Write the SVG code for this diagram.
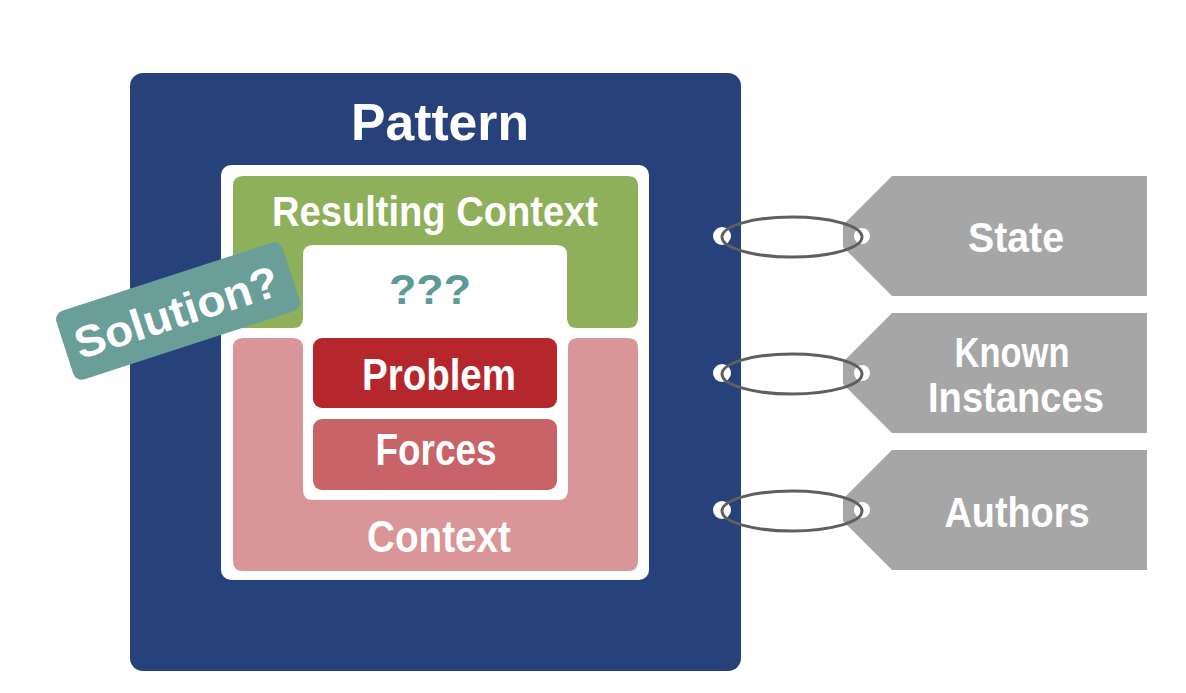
<svg xmlns="http://www.w3.org/2000/svg" width="1186" height="693" viewBox="0 0 1186 693">
<style>
.t{font-family:"Liberation Sans",Arial,sans-serif;font-weight:bold;fill:#ffffff;text-anchor:middle}
.tag{fill:#a6a6a6}
.hole{fill:#ffffff}
.ring{fill:none;stroke:#5f5f5f;stroke-width:3}
</style>
<rect width="1186" height="693" fill="#ffffff"/>
<g id="pattern">
<rect x="130" y="73" width="611" height="598" rx="13" fill="#27417a"/>
<text class="t" x="440" y="140" font-size="52" textLength="178" lengthAdjust="spacingAndGlyphs">Pattern</text>
<rect x="221" y="165" width="428" height="415" rx="10" fill="#ffffff"/>
</g>
<g id="resulting-context">
<path d="M243,176 H628 Q638,176 638,186 V318 Q638,328 628,328 H577 Q567,328 567,318 V255 Q567,245 557,245 H313 Q303,245 303,255 V318 Q303,328 293,328 H243 Q233,328 233,318 V186 Q233,176 243,176 Z" fill="#8fb05a"/>
<text class="t" x="435" y="226" font-size="42" textLength="326" lengthAdjust="spacingAndGlyphs">Resulting Context</text>
<text x="430" y="304" font-family="Liberation Sans,Arial,sans-serif" font-weight="bold" font-size="42" fill="#5b9a95" text-anchor="middle" textLength="82" lengthAdjust="spacingAndGlyphs">???</text>
</g>
<g id="context">
<path d="M243,338 H293 Q303,338 303,348 V490 Q303,500 313,500 H558 Q568,500 568,490 V348 Q568,338 578,338 H628 Q638,338 638,348 V561 Q638,571 628,571 H243 Q233,571 233,561 V348 Q233,338 243,338 Z" fill="#d99597"/>
<text class="t" x="439" y="552" font-size="45" textLength="144" lengthAdjust="spacingAndGlyphs">Context</text>
</g>
<g id="problem">
<rect x="313" y="338" width="244" height="70" rx="9" fill="#b5272c"/>
<text class="t" x="439" y="390" font-size="45" textLength="154" lengthAdjust="spacingAndGlyphs">Problem</text>
</g>
<g id="forces">
<rect x="313" y="419" width="244" height="71" rx="9" fill="#c86468"/>
<text class="t" x="436" y="465" font-size="45" textLength="121" lengthAdjust="spacingAndGlyphs">Forces</text>
</g>
<g id="solution" transform="translate(178,311) rotate(-18)">
<rect x="-119" y="-36" width="238" height="72" rx="9" fill="#6a9e99"/>
<text class="t" x="-2" y="16" font-size="44" textLength="212" lengthAdjust="spacingAndGlyphs">Solution?</text>
</g>
<g id="state">
<polygon class="tag" points="892,176 1147,176 1147,296 892,296 843,247 843,225"/>
<circle class="hole" cx="862" cy="236" r="8"/>
<text class="t" x="1016" y="252" font-size="42" textLength="96" lengthAdjust="spacingAndGlyphs">State</text>
</g>
<g id="known-instances">
<polygon class="tag" points="892,313 1147,313 1147,433 892,433 843,384 843,362"/>
<circle class="hole" cx="862" cy="373" r="8"/>
<text class="t" x="1012" y="367" font-size="42" textLength="115" lengthAdjust="spacingAndGlyphs">Known</text>
<text class="t" x="1016" y="412" font-size="42" textLength="176" lengthAdjust="spacingAndGlyphs">Instances</text>
</g>
<g id="authors">
<polygon class="tag" points="892,450 1147,450 1147,570 892,570 843,521 843,499"/>
<circle class="hole" cx="862" cy="510" r="8"/>
<text class="t" x="1017" y="527" font-size="42" textLength="145" lengthAdjust="spacingAndGlyphs">Authors</text>
</g>
<g id="connectors">
<circle class="hole" cx="722" cy="236" r="9"/>
<circle class="hole" cx="722" cy="373" r="9"/>
<circle class="hole" cx="722" cy="510" r="9"/>
<ellipse class="ring" cx="792" cy="237" rx="70" ry="20"/>
<ellipse class="ring" cx="792" cy="374" rx="70" ry="20"/>
<ellipse class="ring" cx="792" cy="511" rx="70" ry="20"/>
</g>
</svg>
